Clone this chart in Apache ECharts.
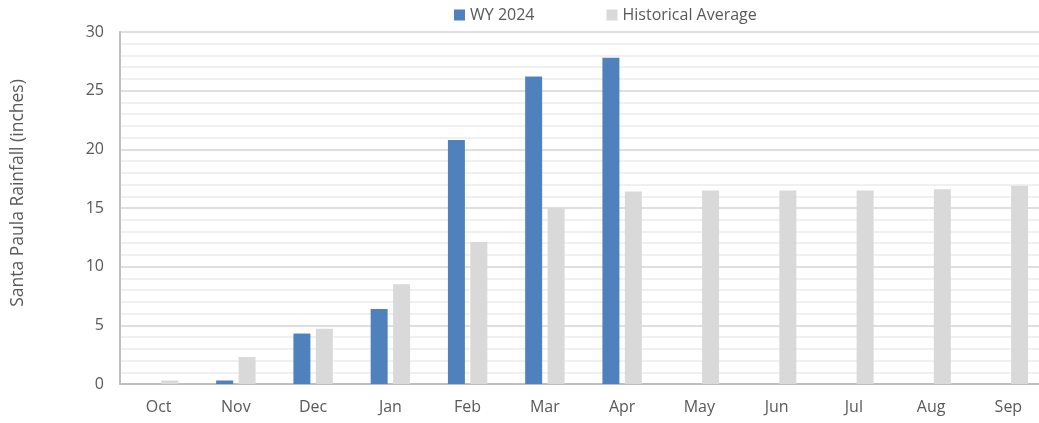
<!DOCTYPE html>
<html>
<head>
<meta charset="utf-8">
<script src="https://cdn.jsdelivr.net/npm/echarts@6/dist/echarts.min.js"></script>
<style>
  html, body { margin: 0; padding: 0; background: #fff; }
  #main { width: 1039px; height: 423px; }
</style>
</head>
<body>
<div id="main"></div>
<script type="text/javascript">
  // monthly values (inches)
  var months = ['Oct', 'Nov', 'Dec', 'Jan', 'Feb', 'Mar', 'Apr', 'May', 'Jun', 'Jul', 'Aug', 'Sep'];
  var wy2024 = [0, 0.3, 4.3, 6.4, 20.8, 26.2, 27.8, null, null, null, null, null];
  var histAvg = [0.3, 2.3, 4.7, 8.5, 12.1, 15.0, 16.4, 16.5, 16.5, 16.5, 16.6, 16.9];
  var yTicks = [0, 5, 10, 15, 20, 25, 30];

  var font = 'Open Sans';
  var chart = echarts.init(document.getElementById('main'));

  chart.setOption({
    animation: false,
    textStyle: { fontFamily: font },
    legend: {
      top: 2,
      left: 449,
      itemWidth: 11,
      itemHeight: 11,
      itemGap: 72,
      icon: 'rect',
      textStyle: { fontSize: 16, color: '#595959', fontFamily: font },
      data: ['WY 2024', 'Historical Average']
    },
    // plot runs past the right edge, as in the cropped original
    grid: { left: 120, width: 927, top: 32, bottom: 39, outerBoundsMode: 'none' },
    xAxis: {
      type: 'category',
      data: months,
      axisLine: { lineStyle: { color: '#bfbfbf', width: 2 } },
      axisTick: { show: false },
      axisLabel: { fontSize: 16, color: '#595959', margin: 15 }
    },
    yAxis: {
      type: 'value',
      min: yTicks[0],
      max: yTicks[yTicks.length - 1],
      interval: 5,
      name: 'Santa Paula Rainfall (inches)',
      nameLocation: 'middle',
      nameGap: 93,
      nameTextStyle: { fontSize: 17.5, color: '#595959', padding: [0, 0, 0, 30] },
      axisLine: { show: true, lineStyle: { color: '#bfbfbf', width: 2 } },
      axisTick: { show: false },
      axisLabel: { fontSize: 16, color: '#595959', margin: 16 },
      splitLine: { lineStyle: { color: '#d4d4d4', width: 1.5 } },
      minorTick: { show: false, splitNumber: 5 },
      minorSplitLine: { show: true, lineStyle: { color: '#ebebeb', width: 1.5 } }
    },
    series: [
      {
        name: 'WY 2024',
        type: 'bar',
        barWidth: 17,
        barGap: '32%',
        itemStyle: { color: '#4f81bd' },
        data: wy2024
      },
      {
        name: 'Historical Average',
        type: 'bar',
        barWidth: 17,
        itemStyle: { color: '#d9d9d9' },
        data: histAvg
      }
    ]
  });
</script>
</body>
</html>
